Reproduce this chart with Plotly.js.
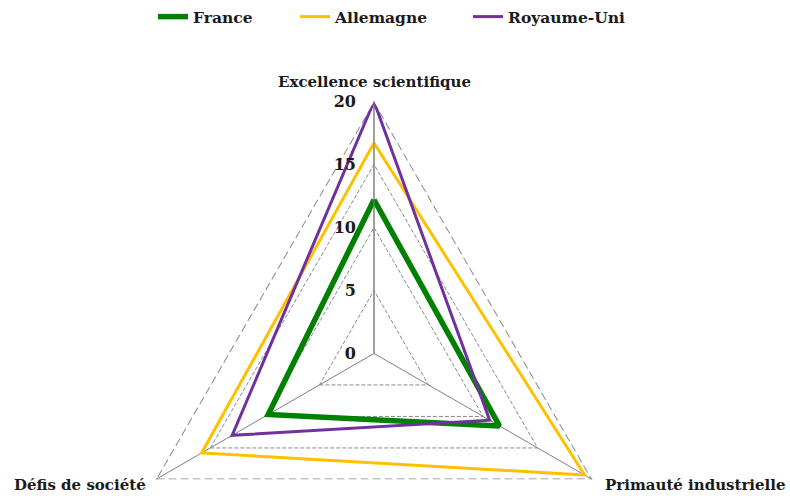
<!DOCTYPE html>
<html><head><meta charset="utf-8">
<script src="https://cdn.plot.ly/plotly-3.0.1.min.js"></script>
<style>html,body{margin:0;padding:0;overflow:hidden;background:#fff;width:790px;height:496px}#c{width:790px;height:760px}</style>
</head><body><div id="c"></div>
<script>
const categories = ['Excellence scientifique', 'Primauté industrielle', 'Défis de société'];
const seriesNames = ['France', 'Allemagne', 'Royaume-Uni'];
const france = [12.2, 11.5, 9.7];
const allemagne = [16.7, 19.3, 15.8];
const royaumeUni = [20, 10.6, 13.0];
const radialTicks = [0, 5, 10, 15, 20];
const outerRing = [20, 20, 20];

const colors = ['#008000', '#FFC000', '#7030A0'];
const widths = [5.5, 3, 3];
const values = [france, allemagne, royaumeUni];
const legendIds = ['legend', 'legend2', 'legend3'];
const close = a => a.concat([a[0]]);

const traces = [{
  type: 'scatterpolar', r: close(outerRing), theta: close(categories), mode: 'lines',
  line: {color: '#8a8a8a', width: 2, dash: '8px,4px'}, showlegend: false, hoverinfo: 'skip'
}].concat(values.map((v, i) => ({
  type: 'scatterpolar',
  r: close(v),
  theta: close(categories),
  mode: 'lines',
  name: seriesNames[i],
  legend: legendIds[i],
  line: {color: colors[i], width: widths[i]},
  hoverinfo: 'skip'
})));

const H = 760, W = 790;
const cx = 374, cy = 351.3, R = 253.3;
const serif = 'DejaVu Serif';
const txt = '#1a1a1a';
const legFont = {family: serif, size: 15.5, color: txt, weight: 'bold'};
const legX = [193, 335, 508];
const mkLegend = x => ({orientation: 'h', x: (x - 40) / W, xanchor: 'left', y: 1 + 4 / H, yanchor: 'top',
  font: legFont, itemwidth: 30, bgcolor: 'rgba(0,0,0,0)'});
const labFont = {family: serif, size: 15, color: txt, weight: 'bold'};
const labPos = [[374, 78, 'center'], [603, 484, 'left'], [148, 484, 'right']];

const layout = {
  width: W, height: H,
  margin: {l: 0, r: 0, t: 0, b: 0},
  paper_bgcolor: '#fff',
  showlegend: true,
  legend: mkLegend(legX[0]), legend2: mkLegend(legX[1]), legend3: mkLegend(legX[2]),
  annotations: categories.map((c, i) => ({
    text: '<b>' + c + '</b>', xref: 'paper', yref: 'paper', showarrow: false,
    x: labPos[i][0] / W, y: 1 - labPos[i][1] / H, xanchor: labPos[i][2], yanchor: 'middle',
    font: labFont
  })),
  polar: {
    domain: {x: [(cx - R) / W, (cx + R) / W], y: [1 - (cy + R) / H, 1 - (cy - R) / H]},
    gridshape: 'linear',
    bgcolor: '#fff',
    radialaxis: {range: [0, 20], tickvals: radialTicks, angle: 90, side: 'counterclockwise',
      tickangle: 90,
      showline: true, linecolor: '#808080', linewidth: 1,
      gridcolor: '#8a8a8a', griddash: '4px,2px', gridwidth: 1,
      ticks: 'outside', ticklen: 12, tickcolor: 'rgba(0,0,0,0)',
      tickfont: {family: serif, size: 16, color: txt, weight: 'bold'}},
    angularaxis: {rotation: 90, direction: 'clockwise', showline: false, showticklabels: false,
      gridcolor: '#808080', gridwidth: 1, ticks: ''}
  }
};
Plotly.newPlot('c', traces, layout, {displayModeBar: false, staticPlot: true});
</script></body></html>
